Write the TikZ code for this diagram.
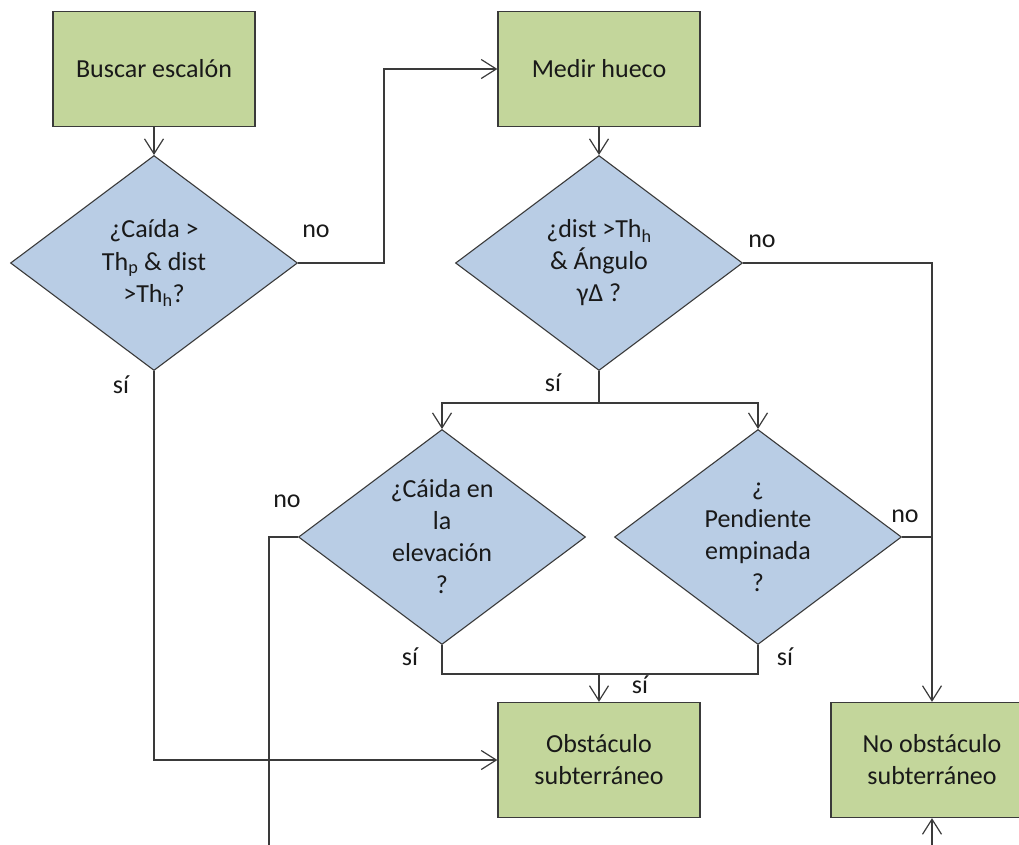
\documentclass[tikz,border=0pt]{standalone}
\usepackage{fontspec}
\setmainfont{Carlito}
\usetikzlibrary{shapes.geometric, arrows.meta}
\definecolor{boxgreen}{HTML}{C3D69B}
\definecolor{condblue}{HTML}{B9CDE5}
\definecolor{linegray}{HTML}{3A3A3A}

\begin{document}
\begin{tikzpicture}[x = 1pt, y = -1pt, align=center, node distance = 194pt, line width = 1.2pt, color = linegray, text = black!90, font = \fontsize{26}{32}\selectfont,
	box/.style = {draw, fill = boxgreen, line width = 1.3pt, minimum width = 202pt, minimum height = 115pt, inner sep = 2pt},
	cond/.style = {draw, fill = condblue, line width = 1.1pt, diamond, aspect = 1.33, minimum width = 287pt, minimum height = 215pt, inner sep = 0pt},
	lbl/.style = {anchor = base, inner sep = 0pt},
	arr/.style = {-{Straight Barb[length = 15pt, width = 19pt]}}]
	\useasboundingbox (0, 0) rectangle (1019, 844);
	\clip (0, 0) rectangle (1019, 844);
	\node[box] (1) at (154, 69) {Buscar escalón};
	\node[cond] (2) [below of = 1] {¿Caída >\\Th\textsubscript{p} \& dist\\>Th\textsubscript{h}?};
	\node[box] (3) [right of = 1, node distance = 445pt] {Medir hueco};
	\node[cond] (4) [below of = 3] {¿dist >Th\textsubscript{h}\\\& Ángulo\\γΔ ?};
	\node[cond] (5) [below of = 4, node distance = 274pt, xshift = -157pt] {¿Cáida en\\la\\elevación\\?};
	\node[cond] (6) [right of = 5, node distance = 316pt] {¿\\Pendiente\\empinada\\?};
	\node[box] (7) [below of = 4, node distance = 497pt] {Obstáculo\\subterráneo};
	\node[box] (8) [right of = 7, node distance = 333pt] {No obstáculo\\subterráneo};
	\coordinate (o1) at (269, 850);
	\coordinate (o2) at (932, 850);
	\draw[arr] (1) -- (2);
	\draw[arr] (2.east) -- ++(86, 0) |- (3.west);
	\draw[arr] (3) -- (4);
	\draw[arr] (4.east) -| (8.north);
	\draw[arr] (4.south) -- ++(0, 32) -| (5.north);
	\draw[arr] (4.south) -- ++(0, 32) -| (6.north);
	\draw[] (5.west) -| (o1);
	\draw[] (6.east) -- (6.east -| 8.north);
	\draw[] (5.south) -- ++(0, 29) -| (6.south);
	\draw[arr] ([yshift = 29pt]7.north) -- (7.north);
	\draw[arr] (2.south) |- (7.west);
	\draw[arr] (o2) -- (8.south);
	\node[lbl] (no1) at (316, 237) {no};
	\node[lbl] (no2) at (762, 247) {no};
	\node[lbl] (no3) at (287, 507) {no};
	\node[lbl] (no4) at (905, 522) {no};
	\node[lbl] (si1) at (121, 393) {sí};
	\node[lbl] (si2) at (553, 391) {sí};
	\node[lbl] (si3) at (410, 665) {sí};
	\node[lbl] (si4) at (785, 665) {sí};
	\node[lbl] (si5) at (640, 693) {sí};
\end{tikzpicture}
\end{document}
